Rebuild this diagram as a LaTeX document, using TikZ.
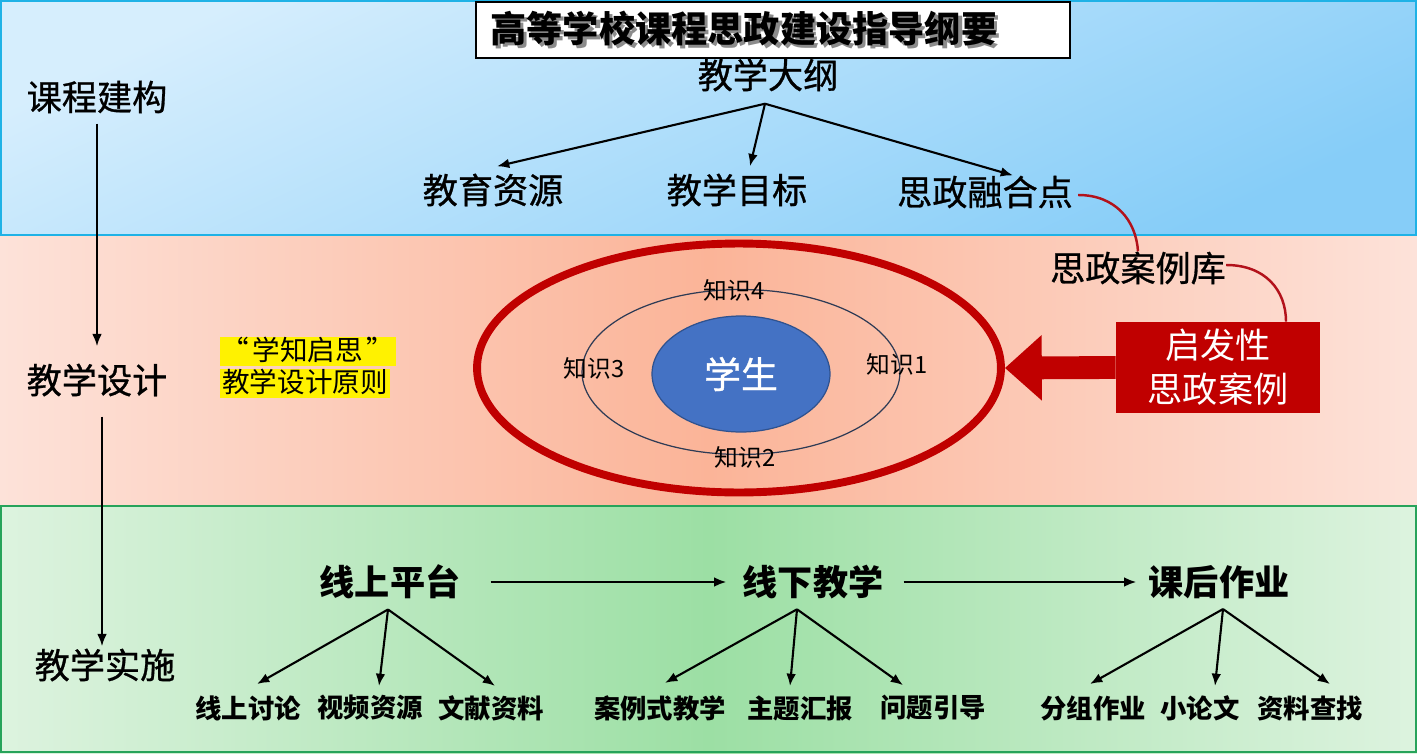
\documentclass[tikz,border=0pt]{standalone}
\usepackage{fontspec}
\setmainfont{Noto Sans CJK SC}
\newfontfamily\cjkmed[FakeBold=0.8]{Noto Sans CJK SC}
\usetikzlibrary{arrows.meta,shapes.geometric,calc}
\definecolor{dred}{HTML}{C00000}
\definecolor{curvered}{HTML}{B3121B}
\definecolor{bluelt}{HTML}{D6EEFD}
\definecolor{bluedk}{HTML}{86CDF8}
\definecolor{blueline}{HTML}{1FB2E6}
\definecolor{pinkedge}{HTML}{FDE2D9}
\definecolor{pinkmid}{HTML}{FBB498}
\definecolor{greenedge}{HTML}{DDF3DF}
\definecolor{greenmid}{HTML}{9CDFA4}
\definecolor{greenline}{HTML}{27A35A}
\definecolor{studentblue}{HTML}{4472C4}
\definecolor{studentline}{HTML}{2F528F}
\definecolor{ringline}{HTML}{2E3B55}
\newcommand{\shadowtext}[1]{\makebox[0pt][l]{\hspace{1.8pt}\raisebox{-1.8pt}{\color{black!45}#1}}#1}
\begin{document}
\begin{tikzpicture}[x=0.02cm,y=-0.02cm,
  lbl/.style={inner sep=0pt, font=\fontsize{20pt}{24pt}\selectfont\cjkmed},
  glbl/.style={inner sep=0pt, font=\fontsize{20pt}{24pt}\selectfont\bfseries},
  sublbl/.style={inner sep=0pt, font=\fontsize{15pt}{18pt}\selectfont\bfseries},
  know/.style={inner sep=0pt, font=\fontsize{13.5pt}{16pt}\selectfont},
  yel/.style={fill=yellow, inner xsep=1pt, inner ysep=0.6pt, text height=12.6pt, text depth=2.6pt, font=\fontsize{15.7pt}{18pt}\selectfont},
  arr/.style={draw=black, line width=1.2pt, -{Latex[length=7pt,width=5.5pt]}},
  redcurve/.style={draw=curvered, line width=1.4pt},
]
\useasboundingbox (0,0) rectangle (1417,754);
% bands
\shade[top color=bluelt, bottom color=bluedk, shading angle=25] (0,0) rectangle (1417,235);
\shade[left color=pinkedge, right color=pinkedge, middle color=pinkmid] (0,235) rectangle (1417,505);
\shade[left color=greenedge, right color=greenedge, middle color=greenmid] (0,505) rectangle (1417,754);
\draw[blueline, line width=1.5pt] (1,1) rectangle (1416,235);
\draw[greenline, line width=1.3pt] (1,506) rectangle (1416,752);

% title
\node[draw=black, fill=white, line width=0.9pt, minimum width=11.88cm, minimum height=1.12cm,
      text width=11.3cm, align=left, inner xsep=0.29cm,
      font=\fontsize{20.6pt}{24pt}\selectfont\bfseries] (title) at (773,30) {\shadowtext{高等学校课程思政建设指导纲要}};

% left column
\node[lbl] (kcjg) at (97,97) {课程建构};
\node[lbl] (jxsj) at (97,380) {教学设计};
\node[lbl] (jxss) at (105,665) {教学实施};
\draw[arr] ($(kcjg.south)+(0,10)$) -- ($(jxsj.north)+(0,-17)$);
\draw[arr] ($(jxsj.south)+(5,20)$) -- ($(jxss.north)+(-3,-2)$);

% top band
\node[lbl] (dg) at (768,75) {教学大纲};
\node[lbl] (zy) at (493,190) {教育资源};
\node[lbl] (mb) at (737,190) {教学目标};
\node[lbl] (rh) at (985,192) {思政融合点};
\draw[arr] ($(dg.south)+(-3,12)$) -- ($(zy.north)+(4,-7)$);
\draw[arr] ($(dg.south)+(-3,12)$) -- ($(mb.north)+(13,-7)$);
\draw[arr] ($(dg.south)+(-3,12)$) -- ($(rh.north)+(28,0)$);

% pink band
\node[lbl] (alk) at (1138,268) {思政案例库};
\node[fill=dred, text=white, minimum width=4.08cm, minimum height=1.82cm, inner sep=0pt, align=center,
      font=\fontsize{20pt}{25pt}\selectfont] (case) at (1218,367.5) {启发性\\思政案例};
\draw[redcurve] ($(rh.east)+(5,3)$) .. controls (1115,195) and (1136,220) .. (alk.north);
\draw[redcurve] ($(alk.east)+(0,-3)$) .. controls (1265,265) and (1286,290) .. (case.north -| 1286,0);

\node[ellipse, draw=dred, line width=4.5pt, minimum width=10.48cm, minimum height=4.98cm, inner sep=0pt] (outer) at (739,368) {};
\node[ellipse, draw=ringline, line width=0.7pt, minimum width=6.36cm, minimum height=3.3cm, inner sep=0pt] (mid) at (741,372) {};
\node[ellipse, draw=studentline, fill=studentblue, line width=0.7pt, minimum width=3.56cm, minimum height=2.32cm, inner sep=0pt,
      text=white, font=\fontsize{21pt}{24pt}\selectfont\cjkmed] (stu) at (741,374) {学生};
\node[know] (k4) at (734,290) {知识4};
\node[know] (k3) at (594,368) {知识3};
\node[know] (k1) at (897,364) {知识1};
\node[know] (k2) at (745,457) {知识2};
\draw[draw=dred, line width=13pt, -{Triangle[length=21pt,width=36pt]}] (case.west) -- (outer.east);

\node[yel, minimum width=3.44cm] (y1) at (308,351.5) {“\hspace{0.12em}学知启思\hspace{0.12em}”};
\node[yel, minimum width=3.32cm] (y2) at (305,383.5) {教学设计原则};

% green band
\node[glbl] (g1) at (390,582) {线上平台};
\node[glbl] (g2) at (813,582) {线下教学};
\node[glbl] (g3) at (1219,582) {课后作业};
\draw[arr] ($(g1.east)+(30,0)$) -- ($(g2.west)+(-16,0)$);
\draw[arr] ($(g2.east)+(20,0)$) -- ($(g3.west)+(-12,0)$);

\node[sublbl] (s1) at (248,708) {线上讨论};
\node[sublbl] (s2) at (370,708) {视频资源};
\node[sublbl] (s3) at (491,708) {文献资料};
\node[sublbl] (s4) at (660,708) {案例式教学};
\node[sublbl] (s5) at (800,708) {主题汇报};
\node[sublbl] (s6) at (933,708) {问题引导};
\node[sublbl] (s7) at (1093,708) {分组作业};
\node[sublbl] (s8) at (1200,708) {小论文};
\node[sublbl] (s9) at (1310,708) {资料查找};

\draw[arr] ($(g1.south)+(-2,10)$) -- ($(s1.north)+(9,-11)$);
\draw[arr] ($(g1.south)+(-2,10)$) -- ($(s2.north)+(9,-9)$);
\draw[arr] ($(g1.south)+(-2,10)$) -- ($(s3.north)+(4,-9)$);
\draw[arr] ($(g2.south)+(-16,10)$) -- ($(s4.north)+(5,-12)$);
\draw[arr] ($(g2.south)+(-16,10)$) -- ($(s5.north)+(-10,-9)$);
\draw[arr] ($(g2.south)+(-16,10)$) -- ($(s6.north)+(-30,-10)$);
\draw[arr] ($(g3.south)+(4,10)$) -- ($(s7.north)+(-3,-11)$);
\draw[arr] ($(g3.south)+(4,10)$) -- ($(s8.north)+(15,-9)$);
\draw[arr] ($(g3.south)+(4,10)$) -- ($(s9.north)+(20,-11)$);
\end{tikzpicture}
\end{document}
